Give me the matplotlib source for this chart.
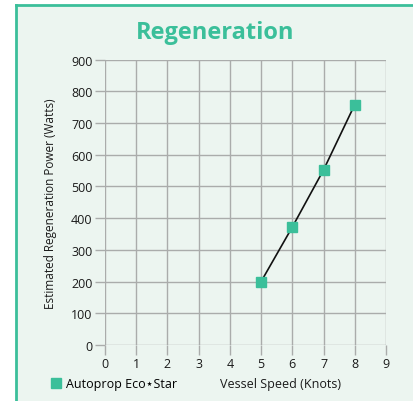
import matplotlib.pyplot as plt
from matplotlib.patches import Rectangle
from matplotlib.lines import Line2D

speed = [5, 6, 7, 8]
power = [200, 372, 552, 758]
xticks = list(range(0, 10))
yticks = list(range(0, 1000, 100))

green = '#3bbf9a'
bg = '#ecf5f0'
gridc = '#aaacab'

plt.rcParams['font.family'] = ['Open Sans', 'DejaVu Sans']

fig = plt.figure(figsize=(4.13, 4.02), dpi=100)
fig.patch.set_facecolor('white')

# panel background with green top/left border
W, H = 413, 402
fig.patches.append(Rectangle((16 / W, 0), 1 - 16 / W, 1 - 6 / H, transform=fig.transFigure,
                             facecolor=bg, edgecolor='none', zorder=-5))
fig.lines.append(Line2D([16 / W, 16 / W], [0, 1 - 6 / H], transform=fig.transFigure,
                        color=green, lw=2.0, zorder=-4))
fig.lines.append(Line2D([16 / W, 1], [1 - 6 / H, 1 - 6 / H], transform=fig.transFigure,
                        color=green, lw=2.0, zorder=-4))

ax = fig.add_axes([105 / W, 1 - 346 / H, (386 - 105) / W, (346 - 60.5) / H])
ax.set_facecolor('none')
ax.plot(speed, power, color='#111111', lw=1.2, zorder=3)
ax.plot(speed, power, 's', color=green, ms=7, zorder=4)

ax.set_xlim(0, 9)
ax.set_ylim(0, 900)
ax.set_xticks(xticks)
ax.set_yticks(yticks)
ax.grid(True, color=gridc, lw=1.0)
ax.set_axisbelow(True)
for s in ax.spines.values():
    s.set_visible(False)
ax.tick_params(axis='both', colors=gridc, length=7, width=1.0, labelsize=9,
               labelcolor='#1a1a1a', pad=2)

ax.set_ylabel('Estimated Regeneration Power (Watts)', fontsize=8.5, color='#1a1a1a', labelpad=10)

fig.text(215 / W, 1 - 33 / H, 'Regeneration', ha='center', va='center',
         fontsize=17, fontweight='bold', color=green)

fig.text(280 / W, 1 - 385 / H, 'Vessel Speed (Knots)', ha='center', va='center',
         fontsize=9, color='#1a1a1a')

h = Line2D([], [], marker='s', ls='none', color=green, ms=7)
fig.legend([h], ['Autoprop Eco\u22c6Star'], loc='center left',
           bbox_to_anchor=(51 / W, 1 - 385 / H), frameon=False, fontsize=9,
           handlelength=0.8, handletextpad=0.4, borderaxespad=0, borderpad=0)

fig.savefig('out.png', dpi=100)
